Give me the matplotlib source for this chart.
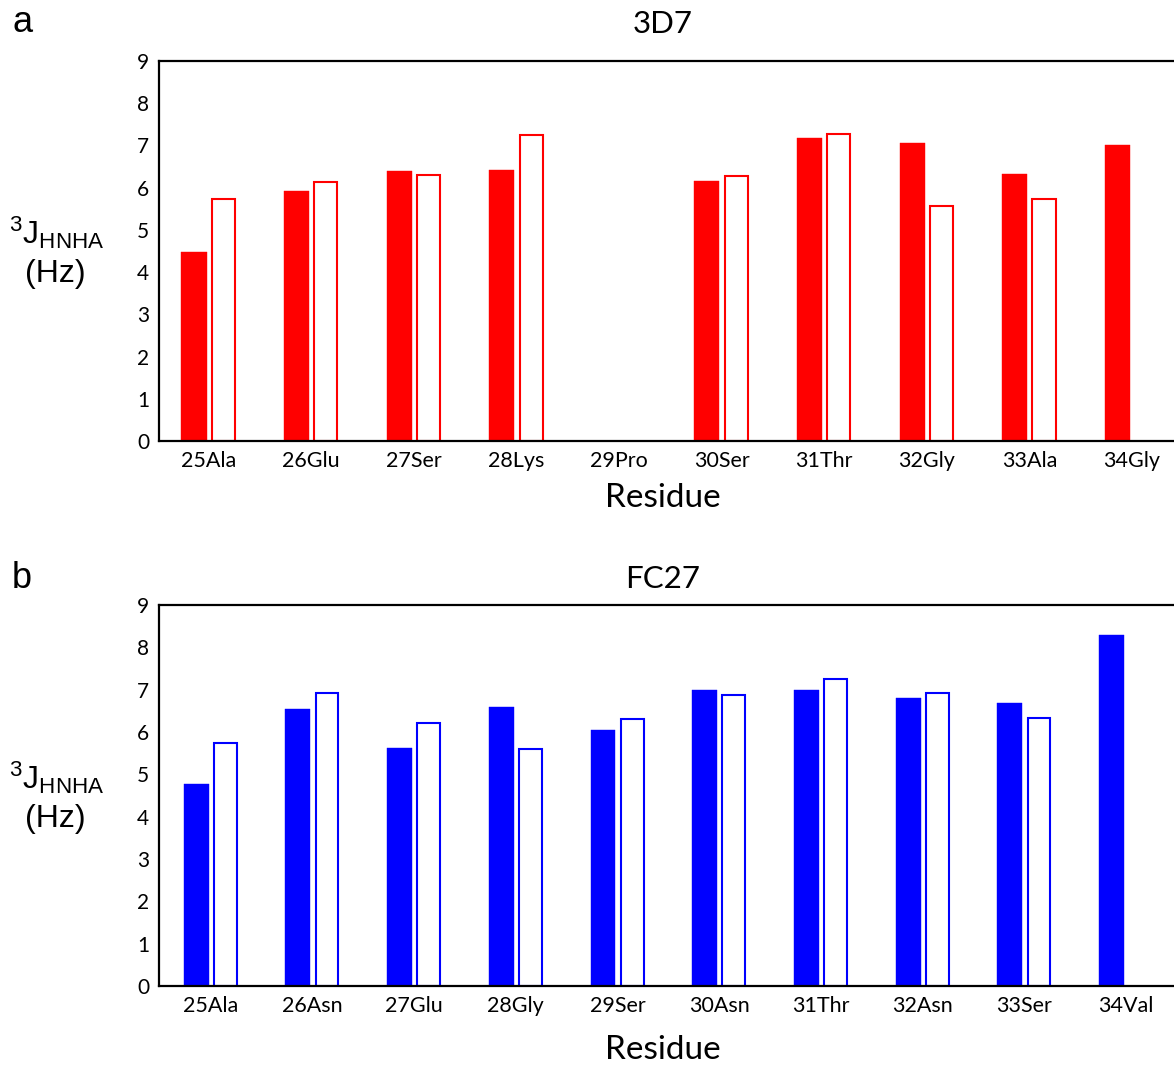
import numpy as np
import matplotlib.pyplot as plt

# residue labels for each construct
residues_3d7 = ['25Ala', '26Glu', '27Ser', '28Lys', '29Pro',
                '30Ser', '31Thr', '32Gly', '33Ala', '34Gly']
residues_fc27 = ['25Ala', '26Asn', '27Glu', '28Gly', '29Ser',
                 '30Asn', '31Thr', '32Asn', '33Ser', '34Val']

# 3J(HNHA) coupling constants in Hz; nan = no value for that residue
exp_3d7 = [4.48, 5.92, 6.40, 6.41, np.nan, 6.16, 7.18, 7.06, 6.33, 7.01]
ref_3d7 = [5.73, 6.14, 6.30, 7.25, np.nan, 6.28, 7.27, 5.57, 5.73, np.nan]
exp_fc27 = [4.78, 6.55, 5.63, 6.60, 6.05, 7.00, 7.00, 6.81, 6.69, 8.30]
ref_fc27 = [5.74, 6.92, 6.21, 5.60, 6.31, 6.88, 7.26, 6.92, 6.34, np.nan]

W, H = 1174, 1065
fig = plt.figure(figsize=(W / 100, H / 100), dpi=100)

tick_font = 'Lato'
label_font = 'Liberation Sans'


def panel(top_px, bottom_px, labels, filled, opened, color, title, letter,
          letter_y, xlim, title_pad, xlabel_pad):
    ax = fig.add_axes([159 / W, 1 - bottom_px / H, 1 - 159 / W, (bottom_px - top_px) / H])
    x = np.arange(len(labels))
    w = 0.245
    off = 0.143
    ax.bar(x - off, filled, width=w, color=color, edgecolor=color, linewidth=0.3)
    ax.bar(x + off, opened, width=w - 0.02, facecolor='white', edgecolor=color, linewidth=1.5)
    ax.set_ylim(0, 9)
    ax.set_xlim(*xlim)
    ax.set_yticks(range(10))
    ax.set_xticks(x)
    ax.set_xticklabels(labels, fontfamily=tick_font, fontsize=15.5)
    for t in ax.get_yticklabels():
        t.set_fontfamily(tick_font)
        t.set_fontsize(15)
    ax.tick_params(length=0, pad=7)
    for s in ['left', 'top', 'bottom']:
        ax.spines[s].set_linewidth(1.6)
        ax.spines[s].set_color('black')
    ax.spines['right'].set_visible(False)
    ax.set_xlabel('Residue', fontfamily=tick_font, fontsize=24, labelpad=xlabel_pad)
    ax.xaxis.label.set_x(0.4966)
    ax.set_title(title, fontfamily=tick_font, fontsize=22.5, pad=title_pad, x=0.4966)

    # y-axis label written horizontally to the left of the axis
    mid = (top_px + bottom_px) / 2
    fig.text(57 / W, 1 - (mid - 18) / H, r'$\mathregular{^3J_{HNHA}}$',
             ha='center', va='center', fontfamily=label_font, fontsize=23)
    fig.text(55 / W, 1 - (mid + 23) / H, '(Hz)',
             ha='center', va='center', fontfamily=label_font, fontsize=23)
    fig.text(12 / W, 1 - letter_y / H, letter,
             ha='left', va='center', fontfamily=label_font, fontsize=26)
    return ax


panel(61, 441, residues_3d7, exp_3d7, ref_3d7, '#ff0000', '3D7', 'a', 22,
      (-0.484, 9.41), 20, 9)
panel(605, 986, residues_fc27, exp_fc27, ref_fc27, '#0000ff', 'FC27', 'b', 578,
      (-0.508, 9.47), 12, 14)

fig.savefig('out.png', dpi=100)
